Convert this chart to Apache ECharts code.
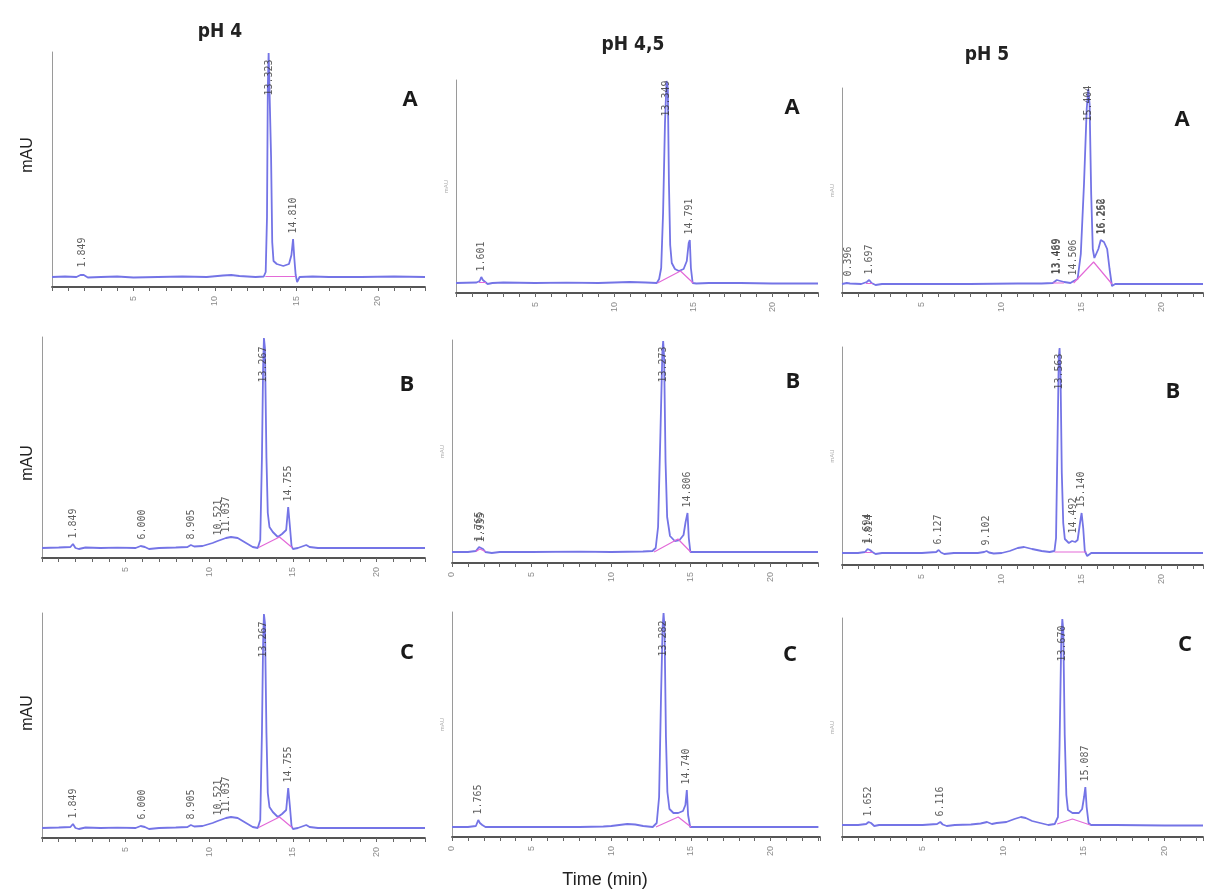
<!DOCTYPE html>
<html>
<head>
<meta charset="utf-8">
<script src="https://cdn.jsdelivr.net/npm/echarts/dist/echarts.min.js"></script>
<style>
html,body{margin:0;padding:0;background:#fff;}
#chart{width:1207px;height:893px;}
</style>
</head>
<body>
<div id="chart"></div>
<script>
// ---- Column / panel texts ----
const columnTitles = ['pH 4', 'pH 4,5', 'pH 5'];
const rowLetters = ['A', 'B', 'C'];
const xAxisTitle = 'Time (min)';
const yAxisTitle = 'mAU';

// ---- Traces: [time (min), signal] ----
const pH4_A = [[0,0],[0.8,0.5],[1.5,0],[1.75,2],[1.85,4],[1.95,2],[2.2,-0.5],[3,0],[4,0.5],[5,-0.5],[6.5,0],[8,0.5],[9.5,0],[10.5,1.5],[11,2],[11.5,1],[12.5,0],[13,0.5],[13.12,5],[13.2,60],[13.25,190],[13.3,224],[13.38,222],[13.45,120],[13.52,35],[13.6,16],[13.8,13],[14.2,11],[14.55,13],[14.7,22],[14.8,38],[14.88,18],[14.96,2],[15.05,-5],[15.2,0],[16,0.5],[17,0],[19,0],[21,0.5],[22.9,0]];
const pH4_B = [[0,0],[1,0.5],[1.7,1],[1.85,4],[2,0],[2.2,-1],[2.6,0.5],[3.5,0],[4.5,0.3],[5.6,0],[5.9,2],[6,3],[6.15,1],[6.4,-1],[7,0],[8,0.5],[8.7,1],[8.9,3],[9.1,1.5],[9.6,2],[10.2,5],[10.5,7],[11,10],[11.3,11],[11.7,10],[12.2,5],[12.6,1],[12.9,0],[13.05,8],[13.15,90],[13.22,180],[13.27,210],[13.33,200],[13.42,90],[13.5,35],[13.6,21],[13.8,16],[14.1,11],[14.35,14],[14.45,12],[14.6,18],[14.72,41],[14.82,22],[14.92,2],[15,-1],[15.3,0],[15.8,3],[16,1],[16.5,0],[18,0],[20,0],[22.9,0]];
const pH4_C = [[0,0],[1,0.5],[1.7,1],[1.85,4],[2,0],[2.2,-1],[2.6,0.5],[3.5,0],[4.5,0.3],[5.6,0],[5.9,2],[6,3],[6.15,1],[6.4,-1],[7,0],[8,0.5],[8.7,1],[8.9,3],[9.1,1.5],[9.6,2],[10.2,5],[10.5,7],[11,10],[11.3,11],[11.7,10],[12.2,5],[12.6,1],[12.9,0],[13.05,8],[13.15,95],[13.22,185],[13.27,214],[13.33,205],[13.42,95],[13.5,35],[13.6,21],[13.8,16],[14.1,11],[14.35,14],[14.45,12],[14.6,18],[14.72,40],[14.82,22],[14.92,2],[15,-1],[15.3,0],[15.8,3],[16,1],[16.5,0],[18,0],[20,0],[22.9,0]];
const pH45_A = [[0,0],[1.3,0.5],[1.5,2],[1.6,6],[1.7,3],[1.85,1],[2,-1],[2.3,0],[3,0.5],[5,0],[7,0.3],[9,0],[10,0.5],[11,1],[12,0.5],[12.7,0],[12.85,4],[12.98,15],[13.1,70],[13.22,160],[13.32,202],[13.4,195],[13.47,100],[13.55,38],[13.65,20],[13.85,14],[14.1,12],[14.4,14],[14.6,22],[14.72,40],[14.79,43],[14.86,15],[14.97,0],[15.2,-0.5],[16,0],[18,0],[20,-0.5],[22.9,-0.5]];
const pH45_B = [[0,0],[1,0],[1.5,1],[1.7,5],[1.8,4],[1.95,3],[2.1,0],[2.5,-1],[3,0],[5,0],[8,0.3],[10,0],[12,0.5],[12.6,1],[12.8,4],[12.95,25],[13.1,120],[13.22,200],[13.27,211],[13.33,195],[13.42,90],[13.52,35],[13.7,16],[14,11],[14.3,12],[14.55,17],[14.68,30],[14.8,39],[14.88,14],[14.98,0],[15.3,0],[17,0],[20,0],[23,0]];
const pH45_C = [[0,0],[1,0],[1.5,1],[1.65,7],[1.75,4],[1.9,2],[2.1,0],[3,0],[6,0],[8,0],[9.5,0.5],[10,1],[10.5,2],[11,3],[11.5,2.5],[12,1],[12.6,0],[12.85,4],[13,30],[13.12,130],[13.22,200],[13.28,214],[13.34,200],[13.43,90],[13.52,35],[13.65,18],[13.9,14],[14.2,14],[14.5,16],[14.65,22],[14.74,37],[14.82,12],[14.95,0],[15.3,0],[18,0],[23,0]];
const pH5_A = [[0,0],[0.3,1],[0.4,2],[0.5,0.5],[1.2,0],[1.55,2],[1.7,4],[1.85,1],[2.1,-1],[2.5,0],[5,0],[8,0],[11,0.5],[12.5,0.5],[13.2,1],[13.45,4],[13.55,3],[13.9,2],[14.3,1],[14.5,3],[14.6,2],[14.75,5],[14.95,30],[15.15,100],[15.32,175],[15.42,195],[15.5,180],[15.6,90],[15.7,35],[15.8,26],[15.9,25],[16.05,35],[16.2,44],[16.4,42],[16.6,35],[16.75,15],[16.9,-2],[17.1,0],[19,0],[22.6,0]];
const pH5_B = [[0,0],[1,0],[1.45,1],[1.6,4],[1.75,3],[1.9,1],[2.1,-1],[2.5,0],[5,0],[5.9,1],[6.05,3],[6.2,0.5],[6.4,-1],[7,0],[8.5,0],[8.9,1],[9.05,2],[9.2,0.5],[9.5,-0.5],[10,0],[10.5,2],[11,5],[11.4,6],[11.9,4],[12.5,2],[13,1],[13.3,2],[13.4,15],[13.5,120],[13.57,195],[13.62,205],[13.68,180],[13.76,80],[13.85,30],[13.95,14],[14.2,10],[14.4,12],[14.5,14],[14.6,11],[14.75,13],[14.9,30],[15,40],[15.1,25],[15.2,2],[15.35,-3],[15.6,0],[17,0],[20,0],[22.6,0]];
const pH5_C = [[0,0],[1,0],[1.5,1],[1.65,3],[1.8,2],[2,-1],[2.3,0],[5,0],[5.9,1],[6.1,3],[6.25,0.5],[6.5,-1],[7,0],[8,0.5],[8.6,1.5],[9,3],[9.3,1],[9.6,2],[10.2,3],[10.7,6],[11.1,8],[11.4,7],[11.8,4],[12.3,2],[12.8,0],[13.2,1],[13.4,8],[13.5,80],[13.6,180],[13.67,206],[13.73,195],[13.82,90],[13.92,30],[14.02,15],[14.3,12],[14.7,12],[14.9,16],[15.02,28],[15.1,38],[15.18,18],[15.3,2],[15.45,0],[17,0],[20,-0.5],[22.4,-0.5]];

// ---- Integration baselines (pink), one list of segments per panel ----
const base_pH4_A = [[[13.1,0.5],[14.95,0.5]]];
const base_pH4_B = [[[12.95,0.5],[14.2,11],[14.95,0.5]]];
const base_pH4_C = [[[12.95,0.5],[14.2,11],[14.95,0.5]]];
const base_pH45_A = [[[1.45,0.5],[1.9,0.5]], [[12.75,0],[14.2,12],[15.0,0]]];
const base_pH45_B = [[[1.5,0.5],[1.75,3],[2.1,0.5]], [[12.7,0],[14.2,13],[15.0,0]]];
const base_pH45_C = [[[12.8,0],[14.2,10],[15.0,0]]];
const base_pH5_A = [[[1.5,0.5],[1.9,0.5]], [[13.2,1],[13.9,1]], [[14.5,1],[15.75,22],[16.9,0]]];
const base_pH5_B = [[[1.45,0.5],[1.9,0.5]], [[13.3,1],[15.3,1]]];
const base_pH5_C = [[[13.35,1],[14.3,6],[15.4,0]]];

// ---- Retention-time labels: [time, label base height, text] ----
const rt_pH4_A = [[1.849,4,'1.849'],[13.32,176,'13.323'],[14.8,38,'14.810']];
const rt_pH4_B = [[1.849,4,'1.849'],[6.0,3,'6.000'],[8.905,3,'8.905'],[10.521,7,'10.521'],[11.037,10,'11.037'],[13.267,160,'13.267'],[14.755,41,'14.755']];
const rt_pH4_C = [[1.849,4,'1.849'],[6.0,3,'6.000'],[8.905,3,'8.905'],[10.521,7,'10.521'],[11.037,10,'11.037'],[13.267,165,'13.267'],[14.755,40,'14.755']];
const rt_pH45_A = [[1.601,6,'1.601'],[13.33,161,'13.349'],[14.79,43,'14.791']];
const rt_pH45_B = [[1.72,5,'1.765'],[1.85,4,'1.935'],[13.27,164,'13.273'],[14.8,39,'14.806']];
const rt_pH45_C = [[1.68,7,'1.765'],[13.28,165,'13.282'],[14.74,37,'14.740']];
const rt_pH5_A = [[0.4,2,'0.396'],[1.7,4,'1.697'],[13.45,4,'13.469'],[13.5,4,'13.489'],[14.5,3,'14.506'],[15.42,157,'15.404'],[16.25,44,'16.262'],[16.3,44,'16.256']];
const rt_pH5_B = [[1.6,4,'1.694'],[1.72,3,'1.814'],[6.05,3,'6.127'],[9.05,2,'9.102'],[13.62,158,'13.563'],[14.5,14,'14.492'],[15.0,40,'15.140']];
const rt_pH5_C = [[1.65,3,'1.652'],[6.1,3,'6.116'],[13.67,158,'13.670'],[15.1,38,'15.087']];

// ---- Layout (row-major: A row, B row, C row; columns pH4, pH4.5, pH5) ----
const panels = [
  {trace:pH4_A,  base:base_pH4_A,  rt:rt_pH4_A,  col:0, g:{left:52,  top:52,  width:373, height:235}, xMax:22.9, yMin:-10, yMax:225, zero:false},
  {trace:pH45_A, base:base_pH45_A, rt:rt_pH45_A, col:1, g:{left:456, top:80,  width:362, height:213}, xMax:22.9, yMin:-10, yMax:203, zero:false},
  {trace:pH5_A,  base:base_pH5_A,  rt:rt_pH5_A,  col:2, g:{left:842, top:88,  width:361, height:205}, xMax:22.6, yMin:-9,  yMax:196, zero:false},
  {trace:pH4_B,  base:base_pH4_B,  rt:rt_pH4_B,  col:0, g:{left:42,  top:337, width:383, height:221}, xMax:22.9, yMin:-10, yMax:211, zero:false},
  {trace:pH45_B, base:base_pH45_B, rt:rt_pH45_B, col:1, g:{left:452, top:340, width:366, height:223}, xMax:23.0, yMin:-11, yMax:212, zero:true},
  {trace:pH5_B,  base:base_pH5_B,  rt:rt_pH5_B,  col:2, g:{left:842, top:347, width:361, height:218}, xMax:22.6, yMin:-12, yMax:206, zero:false},
  {trace:pH4_C,  base:base_pH4_C,  rt:rt_pH4_C,  col:0, g:{left:42,  top:613, width:383, height:225}, xMax:22.9, yMin:-10, yMax:215, zero:false},
  {trace:pH45_C, base:base_pH45_C, rt:rt_pH45_C, col:1, g:{left:452, top:612, width:368, height:225}, xMax:23.1, yMin:-10, yMax:215, zero:true},
  {trace:pH5_C,  base:base_pH5_C,  rt:rt_pH5_C,  col:2, g:{left:842, top:618, width:361, height:219}, xMax:22.4, yMin:-12, yMax:207, zero:false}
];

const BLUE = '#7474e6';
const PINK = '#e36ad8';

const grid = [], xAxis = [], yAxis = [], series = [];
panels.forEach((p, i) => {
  grid.push(Object.assign({containLabel:false}, p.g));
  xAxis.push({
    gridIndex:i, type:'value', min:0, max:p.xMax, interval:1,
    axisLine:{onZero:false, lineStyle:{color:'#555', width:1.8}},
    axisTick:{show:true, length:4, lineStyle:{color:'#666', width:1}},
    axisLabel:{rotate:90, fontSize:9, color:'#8a8a8a', margin:9, fontFamily:'Liberation Sans',
      formatter: v => (Math.abs(v % 5) < 1e-9 && (v > 0 || p.zero)) ? String(v) : ''},
    splitLine:{show:false}
  });
  yAxis.push({
    gridIndex:i, type:'value', min:p.yMin, max:p.yMax,
    axisLine:{show:true, onZero:false, lineStyle:{color:'#9a9a9a', width:1}},
    axisTick:{show:false}, axisLabel:{show:false}, splitLine:{show:false},
    name: p.col > 0 ? yAxisTitle : '', nameLocation:'middle', nameGap:7,
    nameTextStyle:{fontSize:6, color:'#aaa'}
  });
  series.push({
    type:'line', xAxisIndex:i, yAxisIndex:i, data:p.trace, showSymbol:false,
    lineStyle:{color:BLUE, width:1.8}, silent:true, z:2
  });
  p.base.forEach(seg => {
    series.push({
      type:'line', xAxisIndex:i, yAxisIndex:i, data:seg, showSymbol:false,
      lineStyle:{color:PINK, width:1.2}, silent:true, z:3
    });
  });
  series.push({
    type:'scatter', xAxisIndex:i, yAxisIndex:i, data:p.rt, symbolSize:1,
    itemStyle:{color:'rgba(0,0,0,0)'}, silent:true, z:4,
    label:{show:true, formatter: d => d.data[2], position:'top', distance:5,
      rotate:90, align:'left', verticalAlign:'middle',
      fontSize:10, fontFamily:'DejaVu Sans Mono', color:'#333'}
  });
});

const titlePos = [[220,32],[633,45],[987,55]];
const letterPos = [[[410,100],[792,108],[1182,120]],[[407,385],[793,382],[1173,392]],[[407,653],[790,655],[1185,645]]];
const mauPos = [[28,155],[28,463],[28,713]];

const graphic = [];
columnTitles.forEach((t, c) => graphic.push({type:'text', x:titlePos[c][0], y:titlePos[c][1],
  style:{text:t, fill:'#222', align:'center', verticalAlign:'middle',
    font:"bold 19px 'Liberation Sans Narrow','DejaVu Sans Condensed',sans-serif"}}));
rowLetters.forEach((L, r) => letterPos[r].forEach(pos => graphic.push({type:'text', x:pos[0], y:pos[1],
  style:{text:L, fill:'#1a1a1a', align:'center', verticalAlign:'middle',
    font:"bold 22px 'Open Sans','Liberation Sans',sans-serif"}})));
mauPos.forEach(pos => graphic.push({type:'text', x:pos[0], y:pos[1], rotation:Math.PI/2,
  style:{text:yAxisTitle, fill:'#222', align:'center', verticalAlign:'middle',
    font:"16px 'Liberation Sans',Arial,sans-serif"}}));
graphic.push({type:'text', x:605, y:880, style:{text:xAxisTitle, fill:'#222', align:'center',
  verticalAlign:'middle', font:"18px 'Liberation Sans',Arial,sans-serif"}});

const chart = echarts.init(document.getElementById('chart'), null, {renderer:'canvas'});
chart.setOption({animation:false, backgroundColor:'#fff', grid, xAxis, yAxis, series, graphic});
</script>
</body>
</html>
